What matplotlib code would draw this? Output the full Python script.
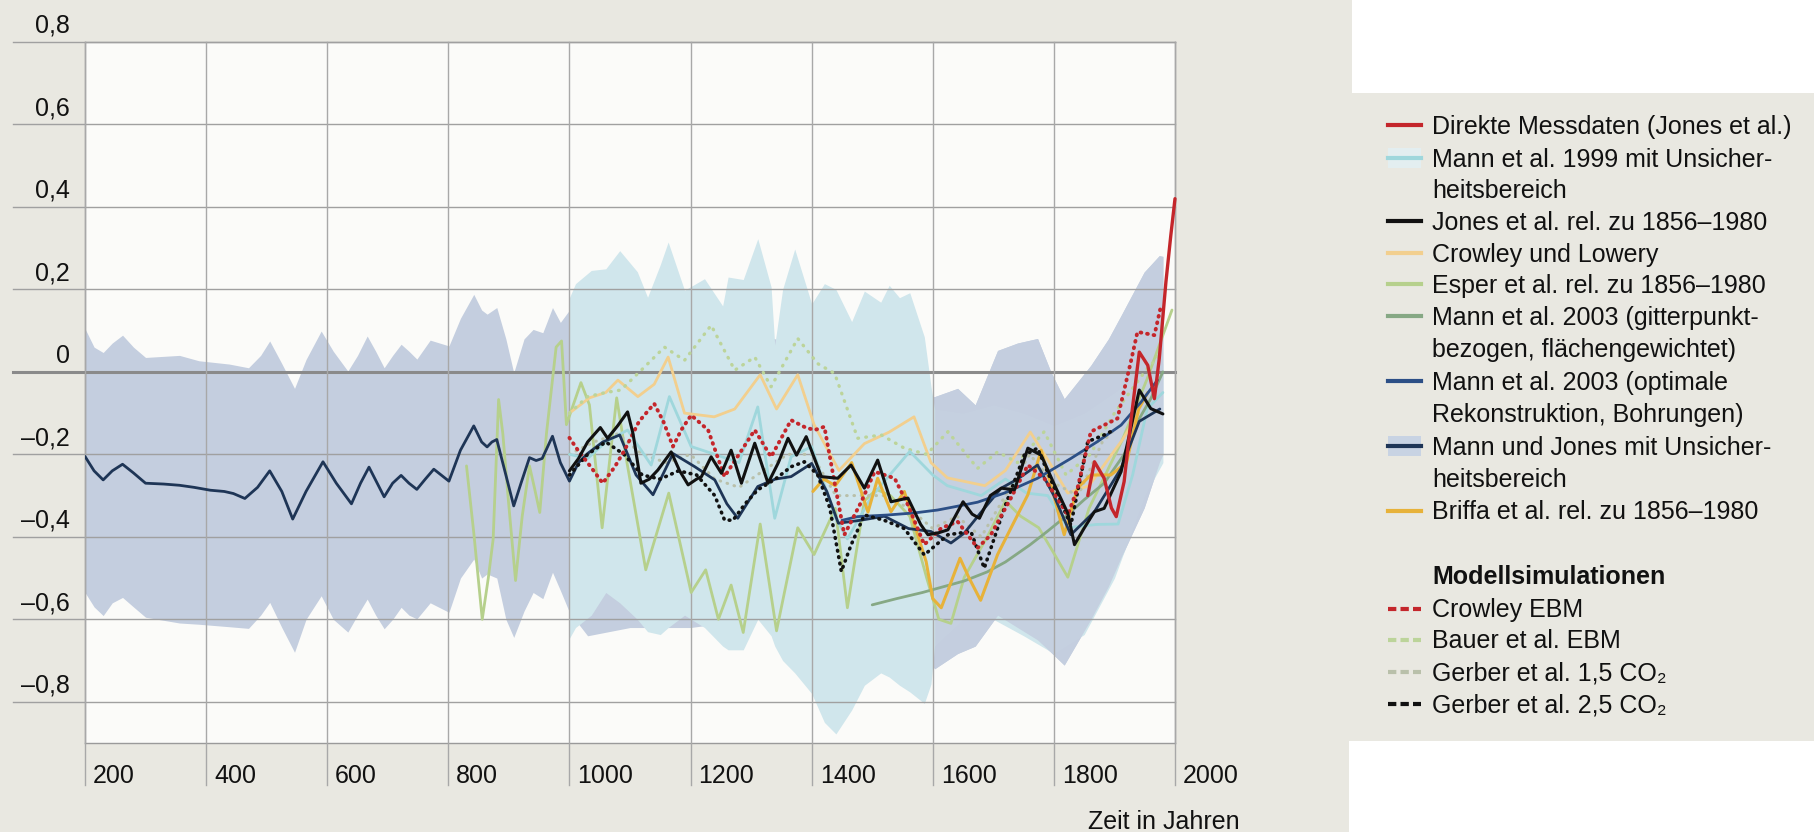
import matplotlib
matplotlib.use("Agg")
import matplotlib.pyplot as plt
from matplotlib.lines import Line2D
from matplotlib.patches import Rectangle
from matplotlib.transforms import offset_copy

plt.rcParams['font.family'] = ['Liberation Sans', 'DejaVu Sans']

# ---- data ----
mj_years = [200, 215, 230, 245, 262, 280, 300, 330, 356, 380, 407, 430, 445, 464, 485, 505, 525, 543, 565,
            593, 615, 640, 655, 669, 694, 708, 722, 735, 748, 762, 776, 801, 820, 842, 855, 864, 872, 880,
            895, 908, 920, 934, 945, 955, 972, 985, 1000, 1015, 1030, 1055, 1083, 1110, 1138, 1171, 1207,
            1240, 1260, 1278, 1311, 1340, 1366, 1400, 1425, 1444, 1480, 1520, 1560, 1597, 1630, 1652, 1680,
            1713, 1740, 1773, 1800, 1828, 1867, 1911, 1941, 1975]
mj_vals = [-0.205, -0.24, -0.262, -0.24, -0.224, -0.245, -0.27, -0.272, -0.275, -0.28, -0.287, -0.29, -0.295,
           -0.307, -0.28, -0.24, -0.29, -0.357, -0.29, -0.218, -0.27, -0.32, -0.27, -0.231, -0.303, -0.27,
           -0.251, -0.27, -0.285, -0.26, -0.236, -0.265, -0.19, -0.131, -0.17, -0.182, -0.17, -0.164, -0.25,
           -0.325, -0.27, -0.208, -0.215, -0.21, -0.156, -0.22, -0.265, -0.22, -0.198, -0.17, -0.153, -0.25,
           -0.298, -0.198, -0.23, -0.262, -0.32, -0.355, -0.278, -0.26, -0.254, -0.222, -0.29, -0.367, -0.36,
           -0.35, -0.38, -0.387, -0.415, -0.391, -0.34, -0.282, -0.26, -0.226, -0.3, -0.395, -0.339, -0.234,
           -0.12, -0.09]

mjb_years = [200, 215, 230, 245, 262, 280, 300, 356, 388, 438, 470, 490, 505, 525, 546, 565, 590, 610, 634,
             650, 666, 680, 694, 708, 722, 735, 748, 770, 801, 820, 842, 855, 864, 880, 895, 908, 925, 940,
             956, 972, 985, 1000, 1030, 1100, 1200, 1300, 1400, 1500, 1560, 1603, 1641, 1670, 1707, 1740,
             1773, 1795, 1817, 1861, 1890, 1911, 1949, 1974, 1980]
mjb_upper = [0.105, 0.06, 0.047, 0.07, 0.089, 0.06, 0.035, 0.04, 0.027, 0.019, 0.01, 0.04, 0.075, 0.02, -0.04,
             0.03, 0.099, 0.05, 0.002, 0.04, 0.087, 0.05, 0.01, 0.04, 0.067, 0.05, 0.031, 0.077, 0.063, 0.13,
             0.188, 0.15, 0.14, 0.156, 0.08, -0.002, 0.08, 0.103, 0.095, 0.156, 0.12, 0.15, 0.13, 0.1, 0.08,
             0.1, 0.05, 0.0, -0.05, -0.06, -0.04, -0.08, 0.052, 0.07, 0.081, 0.0, -0.065, 0.016, 0.08, 0.137,
             0.242, 0.282, 0.28]
mjb_lower = [-0.535, -0.57, -0.591, -0.56, -0.547, -0.57, -0.595, -0.609, -0.612, -0.618, -0.622, -0.59, -0.559,
             -0.62, -0.68, -0.6, -0.543, -0.6, -0.631, -0.59, -0.551, -0.59, -0.623, -0.6, -0.571, -0.59,
             -0.599, -0.56, -0.583, -0.5, -0.454, -0.5, -0.49, -0.5, -0.6, -0.644, -0.58, -0.535, -0.55, -0.486,
             -0.53, -0.583, -0.64, -0.62, -0.62, -0.6, -0.6, -0.6, -0.65, -0.72, -0.683, -0.665, -0.59, -0.62,
             -0.65, -0.68, -0.711, -0.6, -0.52, -0.45, -0.33, -0.22, -0.2]

m99b_years = [1000, 1010, 1036, 1060, 1083, 1112, 1129, 1150, 1163, 1190, 1223, 1253, 1262, 1287, 1311, 1333,
              1339, 1352, 1372, 1400, 1421, 1440, 1466, 1487, 1514, 1528, 1545, 1562, 1586, 1597, 1603, 1650,
              1700, 1750, 1800, 1850, 1900, 1950, 1980]
m99b_upper = [0.18, 0.214, 0.246, 0.25, 0.294, 0.243, 0.181, 0.26, 0.315, 0.198, 0.226, 0.16, 0.23, 0.224,
              0.323, 0.206, 0.065, 0.2, 0.298, 0.165, 0.214, 0.2, 0.122, 0.196, 0.169, 0.21, 0.18, 0.192, 0.085,
              -0.035, -0.09, -0.1, -0.08, -0.1, -0.13, -0.1, -0.05, 0.0, 0.02]
m99b_lower = [-0.646, -0.62, -0.59, -0.535, -0.56, -0.6, -0.63, -0.637, -0.62, -0.59, -0.62, -0.665, -0.674,
              -0.674, -0.6, -0.64, -0.665, -0.7, -0.73, -0.78, -0.85, -0.878, -0.82, -0.76, -0.73, -0.74, -0.76,
              -0.776, -0.804, -0.757, -0.665, -0.6, -0.6, -0.64, -0.683, -0.637, -0.5, -0.3, -0.22]

m99_years = [1000, 1030, 1060, 1096, 1135, 1165, 1201, 1240, 1280, 1311, 1339, 1366, 1400, 1438, 1459, 1500,
             1562, 1600, 1624, 1680, 1720, 1755, 1790, 1823, 1870, 1906, 1930, 1954, 1980]
m99_vals = [-0.2, -0.21, -0.17, -0.141, -0.226, -0.06, -0.181, -0.2, -0.22, -0.085, -0.355, -0.206, -0.181,
            -0.35, -0.405, -0.3, -0.193, -0.25, -0.276, -0.3, -0.26, -0.294, -0.3, -0.378, -0.37, -0.369, -0.25,
            -0.09, -0.05]

jones_years = [1000, 1015, 1030, 1051, 1063, 1080, 1096, 1105, 1118, 1132, 1146, 1168, 1182, 1196, 1210, 1218,
               1234, 1251, 1267, 1284, 1306, 1328, 1345, 1361, 1375, 1391, 1416, 1443, 1465, 1487, 1509, 1531,
               1559, 1580, 1592, 1610, 1625, 1650, 1665, 1677, 1695, 1713, 1735, 1757, 1779, 1801, 1823, 1834,
               1850, 1867, 1883, 1911, 1927, 1941, 1960, 1980]
jones_vals = [-0.24, -0.21, -0.17, -0.135, -0.161, -0.13, -0.097, -0.15, -0.27, -0.26, -0.238, -0.194, -0.24,
              -0.274, -0.26, -0.254, -0.206, -0.246, -0.19, -0.27, -0.173, -0.27, -0.22, -0.161, -0.202, -0.157,
              -0.254, -0.258, -0.226, -0.282, -0.214, -0.315, -0.306, -0.37, -0.395, -0.39, -0.383, -0.315,
              -0.345, -0.355, -0.3, -0.282, -0.286, -0.185, -0.202, -0.274, -0.343, -0.419, -0.379, -0.339,
              -0.331, -0.242, -0.137, -0.044, -0.089, -0.102]

cl_years = [1000, 1033, 1060, 1080, 1113, 1140, 1163, 1190, 1239, 1273, 1315, 1342, 1377, 1404, 1445, 1487,
            1528, 1569, 1597, 1624, 1686, 1720, 1761, 1789, 1823, 1858, 1913, 1940]
cl_vals = [-0.1, -0.063, -0.05, -0.02, -0.06, -0.03, 0.036, -0.1, -0.109, -0.09, -0.007, -0.09, -0.007, -0.128,
           -0.239, -0.174, -0.146, -0.109, -0.22, -0.257, -0.276, -0.239, -0.146, -0.211, -0.294, -0.276,
           -0.165, -0.1]

esper_years = [830, 842, 856, 866, 874, 883, 890, 899, 911, 922, 934, 942, 951, 962, 978, 987, 995, 1019, 1033,
               1054, 1078, 1095, 1126, 1164, 1201, 1225, 1246, 1267, 1287, 1315, 1342, 1377, 1404, 1439, 1459,
               1487, 1507, 1530, 1562, 1590, 1610, 1630, 1652, 1690, 1720, 1745, 1775, 1800, 1823, 1858, 1913,
               1954, 1995]
esper_vals = [-0.228, -0.39, -0.6, -0.5, -0.406, -0.067, -0.15, -0.309, -0.506, -0.35, -0.228, -0.28, -0.341,
              -0.15, 0.06, 0.075, -0.128, -0.026, -0.08, -0.378, -0.063, -0.22, -0.48, -0.294, -0.535, -0.48,
              -0.6, -0.517, -0.632, -0.369, -0.628, -0.378, -0.443, -0.331, -0.572, -0.313, -0.285, -0.3, -0.35,
              -0.5, -0.6, -0.61, -0.498, -0.4, -0.313, -0.35, -0.378, -0.44, -0.498, -0.331, -0.165, -0.017, 0.15]

grid_years = [1500, 1540, 1583, 1620, 1652, 1690, 1720, 1760, 1789, 1820, 1850, 1883, 1916, 1938, 1960, 1980]
grid_vals = [-0.565, -0.55, -0.535, -0.52, -0.507, -0.485, -0.461, -0.42, -0.387, -0.35, -0.31, -0.27, -0.2,
             -0.121, -0.065, 0.0]

bore_years = [1450, 1476, 1526, 1570, 1608, 1640, 1674, 1718, 1773, 1828, 1872, 1911, 1944, 1971]
bore_vals = [-0.36, -0.351, -0.347, -0.342, -0.335, -0.326, -0.316, -0.294, -0.258, -0.21, -0.169, -0.129,
             -0.073, -0.02]

briffa_years = [1402, 1420, 1439, 1466, 1493, 1509, 1531, 1553, 1575, 1589, 1600, 1614, 1625, 1645, 1660,
                1679, 1707, 1729, 1757, 1779, 1800, 1817, 1839, 1861, 1894, 1920, 1940, 1955]
briffa_vals = [-0.29, -0.26, -0.276, -0.22, -0.34, -0.258, -0.339, -0.29, -0.395, -0.46, -0.55, -0.572, -0.53,
               -0.452, -0.5, -0.554, -0.443, -0.379, -0.298, -0.19, -0.3, -0.395, -0.282, -0.25, -0.25, -0.22,
               -0.09, -0.05]

direct_years = [1856, 1867, 1883, 1895, 1903, 1916, 1927, 1941, 1955, 1966, 1974, 1985, 1993, 2000]
direct_vals = [-0.3, -0.218, -0.258, -0.33, -0.351, -0.266, -0.121, 0.048, 0.016, -0.065, 0.032, 0.218, 0.33,
               0.42]

crowley_years = [1000, 1014, 1035, 1055, 1075, 1091, 1115, 1140, 1155, 1171, 1185, 1201, 1229, 1256, 1280,
                 1306, 1333, 1366, 1390, 1405, 1421, 1438, 1454, 1482, 1504, 1537, 1559, 1586, 1614, 1641, 1674,
                 1696, 1729, 1757, 1784, 1823, 1839, 1861, 1905, 1927, 1938, 1966, 1977]
crowley_vals = [-0.16, -0.19, -0.23, -0.27, -0.23, -0.19, -0.12, -0.077, -0.12, -0.181, -0.14, -0.105, -0.141,
                -0.254, -0.2, -0.141, -0.206, -0.117, -0.135, -0.141, -0.133, -0.27, -0.395, -0.315, -0.242,
                -0.258, -0.323, -0.419, -0.379, -0.363, -0.427, -0.395, -0.306, -0.226, -0.258, -0.347, -0.282,
                -0.145, -0.113, 0.024, 0.097, 0.089, 0.161]

bauer_years = [1000, 1030, 1060, 1085, 1124, 1157, 1190, 1234, 1273, 1306, 1333, 1377, 1410, 1438, 1476, 1515,
               1553, 1590, 1625, 1674, 1707, 1740, 1784, 1820, 1860, 1900, 1950, 1980]
bauer_vals = [-0.1, -0.06, -0.05, -0.044, 0.012, 0.06, 0.028, 0.113, 0.004, 0.036, -0.036, 0.081, 0.02, -0.004,
              -0.161, -0.153, -0.185, -0.2, -0.145, -0.234, -0.194, -0.22, -0.145, -0.25, -0.2, -0.1, 0.0, 0.05]

g15_years = [1000, 1040, 1080, 1120, 1160, 1200, 1240, 1280, 1320, 1360, 1400, 1440, 1480, 1520, 1560, 1600,
             1640, 1680, 1720, 1760, 1800, 1840, 1880, 1900]
g15_vals = [-0.2, -0.17, -0.15, -0.2, -0.22, -0.2, -0.26, -0.28, -0.24, -0.2, -0.2, -0.3, -0.3, -0.3, -0.33,
            -0.38, -0.35, -0.4, -0.3, -0.2, -0.27, -0.3, -0.17, -0.14]

g25_years = [1000, 1030, 1060, 1090, 1120, 1150, 1180, 1210, 1240, 1256, 1270, 1290, 1311, 1340, 1366, 1388,
             1410, 1430, 1449, 1465, 1487, 1520, 1553, 1586, 1625, 1663, 1685, 1718, 1751, 1773, 1801, 1828,
             1856, 1883, 1900]
g25_vals = [-0.25, -0.2, -0.17, -0.2, -0.25, -0.26, -0.24, -0.25, -0.3, -0.359, -0.36, -0.32, -0.286, -0.26,
            -0.23, -0.218, -0.25, -0.33, -0.484, -0.42, -0.347, -0.36, -0.38, -0.444, -0.395, -0.387, -0.476,
            -0.331, -0.202, -0.185, -0.282, -0.371, -0.169, -0.153, -0.14]

x_ticks = [200, 400, 600, 800, 1000, 1200, 1400, 1600, 1800, 2000]
y_ticks = [0.8, 0.6, 0.4, 0.2, 0.0, -0.2, -0.4, -0.6, -0.8]
y_labels = ['0,8', '0,6', '0,4', '0,2', '0', '–0,2', '–0,4', '–0,6', '–0,8']

# ---- colours ----
RED = '#c4262b'
NAVY = '#1e3556'
BLUE = '#2c4f86'
CYAN = '#9fd7dc'
PEACH = '#f2cf8e'
LGREEN = '#b6d08c'
GGREEN = '#86a884'
GOLD = '#e7b23a'
BEIGE = '#e9e8e1'
BAND_MJ = '#c4cedf'
BAND_99 = '#d0e6ec'

W, H = 1815, 832
fig = plt.figure(figsize=(W / 100, H / 100), dpi=100)
fig.patch.set_facecolor(BEIGE)
fig.add_artist(Rectangle((1352 / W, 1 - 93 / H), (W - 1352) / W, 93 / H, transform=fig.transFigure,
                         facecolor='white', edgecolor='none', zorder=0))
fig.add_artist(Rectangle((1349 / W, 0), (W - 1349) / W, (H - 741) / H, transform=fig.transFigure,
                         facecolor='white', edgecolor='none', zorder=0))

ax = fig.add_axes([85 / W, 1 - 743 / H, 1090 / W, 701 / H])
ax.set_facecolor('#fbfbf9')
ax.set_xlim(200, 2000)
ax.set_ylim(-0.9, 0.8)
ax.set_xticks([])
ax.set_yticks([])
for s in ax.spines.values():
    s.set_color('#9a9a9a')
    s.set_linewidth(1)

# uncertainty bands: Mann 1999 lies over Mann & Jones before ~1600, under it afterwards
ax.fill_between(mjb_years, mjb_lower, mjb_upper, color=BAND_MJ, lw=0, zorder=1)
ax.fill_between(m99b_years, m99b_lower, m99b_upper, color=BAND_99, lw=0, zorder=2)
late = [i for i, yr in enumerate(mjb_years) if yr >= 1603]
ax.fill_between([mjb_years[i] for i in late], [mjb_lower[i] for i in late], [mjb_upper[i] for i in late],
                color=BAND_MJ, alpha=0.9, lw=0, zorder=2.5)

# grid, extended out to the tick labels like in the print
yt = ax.get_yaxis_transform()
xt = ax.get_xaxis_transform()
for v in y_ticks:
    if v == 0:
        ax.plot([-0.066, 1], [v, v], transform=yt, color='#8a8a8a', lw=2.2, clip_on=False, zorder=3)
    else:
        ax.plot([-0.066, 1], [v, v], transform=yt, color='#a0a0a0', lw=1, clip_on=False, zorder=3)
for yr in x_ticks:
    ax.plot([yr, yr], [-0.06, 1], transform=xt, color='#a8a8a8', lw=1, clip_on=False, zorder=3)

ylab_tr = offset_copy(yt, fig=fig, x=0, y=9, units='dots')
for v, lab in zip(y_ticks, y_labels):
    ax.text(-0.0138, v, lab, transform=ylab_tr, ha='right', va='baseline', fontsize=18, color='#111111')
xlab_tr = offset_copy(xt, fig=fig, x=8, y=0, units='dots')
for yr in x_ticks:
    ax.text(yr, -0.057, str(yr), transform=xlab_tr, ha='left', va='baseline', fontsize=18, color='#111111')
fig.text(1240 / W, 1 - 829 / H, 'Zeit in Jahren', ha='right', va='baseline', fontsize=18, color='#111111')

# series
sm = dict(solid_joinstyle='round', solid_capstyle='round')
dot = dict(dash_capstyle='round', dash_joinstyle='round')
ax.plot(esper_years, esper_vals, color=LGREEN, lw=2, zorder=4, **sm)
ax.plot(cl_years, cl_vals, color=PEACH, lw=2, zorder=4, **sm)
ax.plot(bauer_years, bauer_vals, color='#bcd49a', lw=2.4, ls=(0, (0.2, 2.2)), zorder=4, **dot)
ax.plot(g15_years, g15_vals, color='#b9c0aa', lw=2.2, ls=(0, (0.2, 2.2)), zorder=4, **dot)
ax.plot(m99_years, m99_vals, color=CYAN, lw=2, zorder=5, **sm)
ax.plot(grid_years, grid_vals, color=GGREEN, lw=2, zorder=5, **sm)
ax.plot(briffa_years, briffa_vals, color=GOLD, lw=2.2, zorder=5, **sm)
ax.plot(mj_years, mj_vals, color=NAVY, lw=2, zorder=6, **sm)
ax.plot(bore_years, bore_vals, color=BLUE, lw=2, zorder=6, **sm)
ax.plot(g25_years, g25_vals, color='#111111', lw=2.6, ls=(0, (0.2, 1.6)), zorder=7, **dot)
ax.plot(crowley_years, crowley_vals, color=RED, lw=2.8, ls=(0, (0.2, 1.5)), zorder=7, **dot)
ax.plot(jones_years, jones_vals, color='#111111', lw=2.2, zorder=8, **sm)
ax.plot(direct_years, direct_vals, color=RED, lw=2.4, zorder=9, clip_on=False, **sm)

# legend, built by hand in figure pixels
x0, x1, xt0 = 1388, 1421, 1432


def leg_line(y, color, lw=3, ls='-', band=None):
    if band:
        fig.add_artist(Rectangle((x0 / W, 1 - (y + 10) / H), (x1 - x0) / W, 20 / H,
                                 transform=fig.transFigure, facecolor=band, edgecolor='none'))
    fig.add_artist(Line2D([x0 / W, x1 / W], [1 - y / H, 1 - y / H], transform=fig.transFigure,
                          color=color, lw=lw, ls=ls))


def leg_text(y, s, bold=False):
    fig.text(xt0 / W, 1 - y / H, s, ha='left', va='center', fontsize=18, color='#111111',
             fontweight='bold' if bold else 'normal')


leg_line(125, RED)
leg_text(127, 'Direkte Messdaten (Jones et al.)')
leg_line(158, CYAN, band='#e3eef0')
leg_text(160, 'Mann et al. 1999 mit Unsicher-')
leg_text(191, 'heitsbereich')
leg_line(221, '#111111')
leg_text(223, 'Jones et al. rel. zu 1856–1980')
leg_line(253, PEACH)
leg_text(255, 'Crowley und Lowery')
leg_line(284, LGREEN)
leg_text(286, 'Esper et al. rel. zu 1856–1980')
leg_line(316, GGREEN)
leg_text(318, 'Mann et al. 2003 (gitterpunkt-')
leg_text(350, 'bezogen, flächengewichtet)')
leg_line(381, BLUE)
leg_text(383, 'Mann et al. 2003 (optimale')
leg_text(415, 'Rekonstruktion, Bohrungen)')
leg_line(446, NAVY, band='#c8d3e3')
leg_text(448, 'Mann und Jones mit Unsicher-')
leg_text(480, 'heitsbereich')
leg_line(511, GOLD)
leg_text(512, 'Briffa et al. rel. zu 1856–1980')
leg_text(577, 'Modellsimulationen', bold=True)
leg_line(609, RED, ls=(0, (2, 1)))
leg_text(610, 'Crowley EBM')
leg_line(640, '#bcd49a', ls=(0, (2, 1)))
leg_text(641, 'Bauer et al. EBM')
leg_line(672, '#b9c0aa', ls=(0, (2, 1)))
leg_text(673, 'Gerber et al. 1,5 CO₂')
leg_line(704, '#111111', ls=(0, (2, 1)))
leg_text(705, 'Gerber et al. 2,5 CO₂')

fig.savefig('out.png', dpi=100, facecolor=fig.get_facecolor())
